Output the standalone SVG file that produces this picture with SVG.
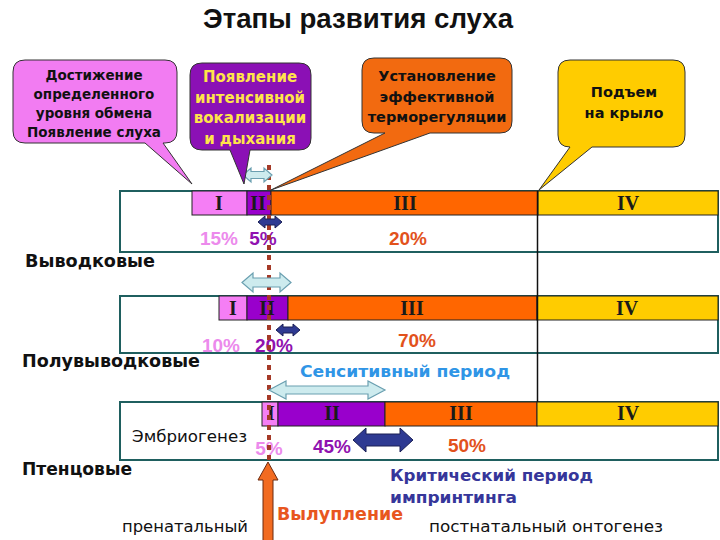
<svg xmlns="http://www.w3.org/2000/svg" width="720" height="540" viewBox="0 0 720 540">
<style>
.box{fill:#fff;stroke:#1f5f5f;stroke-width:2}
.seg{stroke:#222;stroke-width:1}
.s1{fill:#f57ef5}.s2{fill:#9900cc}.s3{fill:#ff6600}.s4{fill:#ffcc00}
.rn{font-family:"Liberation Serif",serif;font-weight:bold;font-size:20px;fill:#1a1a1a;text-anchor:middle}
.pc{font-family:"Liberation Sans",Arial,sans-serif;font-weight:bold;font-size:19px;text-anchor:middle}
.p1{fill:#ec8aec}.p2{fill:#9012b0}.p3{fill:#e2521c}
.lbl{font-family:"DejaVu Sans",Verdana,sans-serif;font-weight:bold;font-size:17px;fill:#111}
.reg{font-family:"DejaVu Sans",Verdana,sans-serif;font-size:15px;fill:#111}
.ct{font-family:"DejaVu Sans",Verdana,sans-serif;font-weight:bold;text-anchor:middle}
.call{stroke:#333;stroke-width:1}
.lt{fill:#cdebee;stroke:#6a9fb0;stroke-width:1.2}
.nv{fill:#2e3a92;stroke:#1a1f55;stroke-width:1}
</style>

<text x="358" y="28" text-anchor="middle" font-family="Liberation Sans, Arial, sans-serif" font-weight="bold" font-size="27" fill="#111" textLength="310" lengthAdjust="spacingAndGlyphs">Этапы развития слуха</text>

<g id="row1">
<rect class="box" x="120" y="191" width="598" height="61"/>
<rect class="seg s1" x="192" y="191" width="55" height="24"/>
<rect class="seg s2" x="247" y="191" width="24" height="24"/>
<rect class="seg s3" x="271" y="191" width="267" height="24"/>
<rect class="seg s4" x="538" y="191" width="180" height="24"/>
<text class="rn" x="219" y="210">I</text>
<text class="rn" x="258" y="210">II</text>
<text class="rn" x="405" y="210">III</text>
<text class="rn" x="628" y="210">IV</text>
<text class="pc p1" x="219" y="245">15%</text>
<text class="pc p2" x="263" y="245">5%</text>
<text class="pc p3" x="408" y="245">20%</text>
</g>

<g id="row2">
<rect class="box" x="120" y="296" width="598" height="57"/>
<rect class="seg s1" x="219" y="296" width="28" height="24"/>
<rect class="seg s2" x="247" y="296" width="41" height="24"/>
<rect class="seg s3" x="288" y="296" width="249" height="24"/>
<rect class="seg s4" x="537" y="296" width="181" height="24"/>
<text class="rn" x="233" y="315">I</text>
<text class="rn" x="267" y="315">II</text>
<text class="rn" x="412" y="315">III</text>
<text class="rn" x="627" y="315">IV</text>
<text class="pc p1" x="221" y="352">10%</text>
<text class="pc p2" x="274" y="352">20%</text>
<text class="pc p3" x="417" y="347">70%</text>
</g>

<g id="row3">
<rect class="box" x="120" y="402" width="598" height="58"/>
<rect class="seg s1" x="262" y="402" width="16" height="24"/>
<rect class="seg s2" x="278" y="402" width="107" height="24"/>
<rect class="seg s3" x="385" y="402" width="152" height="24"/>
<rect class="seg s4" x="537" y="402" width="181" height="24"/>
<text class="rn" x="271" y="420">I</text>
<text class="rn" x="332" y="420">II</text>
<text class="rn" x="461" y="420">III</text>
<text class="rn" x="628" y="420">IV</text>
<text class="pc p1" x="269" y="455">5%</text>
<text class="pc p2" x="332" y="453">45%</text>
<text class="pc p3" x="467" y="452">50%</text>
<text class="reg" x="132" y="442" textLength="115" lengthAdjust="spacingAndGlyphs">Эмбриогенез</text>
</g>

<g id="labels">
<text class="lbl" x="25" y="267" textLength="130" lengthAdjust="spacingAndGlyphs">Выводковые</text>
<text class="lbl" x="22" y="367" textLength="178" lengthAdjust="spacingAndGlyphs">Полувыводковые</text>
<text class="lbl" x="22" y="475" textLength="110" lengthAdjust="spacingAndGlyphs">Птенцовые</text>
<text class="reg" x="122" y="532" font-size="16" textLength="126" lengthAdjust="spacingAndGlyphs">пренатальный</text>
<text class="reg" x="429" y="532" font-size="16" textLength="234" lengthAdjust="spacingAndGlyphs">постнатальный онтогенез</text>
<text x="277" y="520" font-family="DejaVu Sans, Verdana, sans-serif" font-weight="bold" font-size="17" fill="#e8561e" textLength="126" lengthAdjust="spacingAndGlyphs">Вылупление</text>
<text x="300" y="377" font-family="DejaVu Sans, Verdana, sans-serif" font-weight="bold" font-size="16" fill="#2f95e6" textLength="210" lengthAdjust="spacingAndGlyphs">Сенситивный период</text>
<text x="390" y="481" font-family="DejaVu Sans, Verdana, sans-serif" font-weight="bold" font-size="16" fill="#36369a" textLength="203" lengthAdjust="spacingAndGlyphs">Критический  период</text>
<text x="390" y="503" font-family="DejaVu Sans, Verdana, sans-serif" font-weight="bold" font-size="16" fill="#36369a" textLength="127" lengthAdjust="spacingAndGlyphs">импринтинга</text>
</g>

<g id="connectors">
<line x1="537.5" y1="191" x2="537.5" y2="402" stroke="#111" stroke-width="1.5"/>
<line x1="269" y1="165" x2="269" y2="460" stroke="#a53a28" stroke-width="4" stroke-dasharray="5 5"/>
<path class="lt" d="M243,175 L251,168 L251,171.5 L264,171.5 L264,168 L272,175 L264,182 L264,178.5 L251,178.5 L251,182 Z"/>
<path class="lt" d="M242,282.5 L253,273 L253,278 L280,278 L280,273 L291,282.5 L280,292 L280,287 L253,287 L253,292 Z"/>
<path class="lt" d="M269,390 L286,381 L286,386 L368,386 L368,381 L385,390 L368,399 L368,394 L286,394 L286,399 Z"/>
<path class="nv" d="M258,222 L265,216 L265,219 L275,219 L275,216 L282,222 L275,228 L275,225 L265,225 L265,228 Z"/>
<path class="nv" d="M276,330 L283,324 L283,327 L293,327 L293,324 L300,330 L293,336 L293,333 L283,333 L283,336 Z"/>
<path class="nv" d="M353,440 L366,428 L366,434 L400,434 L400,428 L413,440 L400,452 L400,446 L366,446 L366,452 Z"/>
<path d="M268,462 L278,480 L273,480 L273,542 L263,542 L263,480 L258,480 Z" fill="#f26b21" stroke="#6b2a10" stroke-width="1"/>
</g>

<g id="callout-pink">
<path class="call" fill="#f27cf2" d="M25,60 H165 Q177,60 177,72 V131 Q177,143 165,143 H163 L192,184 L145,143 H25 Q13,143 13,131 V72 Q13,60 25,60 Z"/>
<text class="ct" font-size="13.5" fill="#111" x="94" y="80">Достижение</text>
<text class="ct" font-size="13.5" fill="#111" x="94" y="99">определенного</text>
<text class="ct" font-size="13.5" fill="#111" x="94" y="118">уровня обмена</text>
<text class="ct" font-size="13.5" fill="#111" x="94" y="137">Появление слуха</text>
</g>

<g id="callout-purple">
<path class="call" fill="#8b10b5" d="M202,63 H299 Q311,63 311,75 V138 Q311,150 299,150 H250 L244,184 L230,150 H202 Q190,150 190,138 V75 Q190,63 202,63 Z"/>
<text class="ct" font-size="15" fill="#ffe44a" x="250" y="82">Появление</text>
<text class="ct" font-size="15" fill="#ffe44a" x="250" y="103">интенсивной</text>
<text class="ct" font-size="15" fill="#ffe44a" x="250" y="123">вокализации</text>
<text class="ct" font-size="15" fill="#ffe44a" x="250" y="144">и дыхания</text>
</g>

<g id="callout-orange">
<path class="call" fill="#f26a10" d="M374,58 H500 Q512,58 512,70 V121 Q512,133 500,133 H430 L271,190 L385,133 H374 Q362,133 362,121 V70 Q362,58 374,58 Z"/>
<text class="ct" font-size="14.5" fill="#111" x="437" y="81">Установление</text>
<text class="ct" font-size="14.5" fill="#111" x="437" y="102">эффективной</text>
<text class="ct" font-size="14.5" fill="#111" x="437" y="122">терморегуляции</text>
</g>

<g id="callout-yellow">
<path class="call" fill="#ffcc00" d="M570,60 H673 Q685,60 685,72 V135 Q685,147 673,147 H592 L539,190 L570,147 Q558,147 558,135 V72 Q558,60 570,60 Z"/>
<text class="ct" font-size="14.5" fill="#111" x="624" y="97">Подъем</text>
<text class="ct" font-size="14.5" fill="#111" x="624" y="118">на крыло</text>
</g>
</svg>
